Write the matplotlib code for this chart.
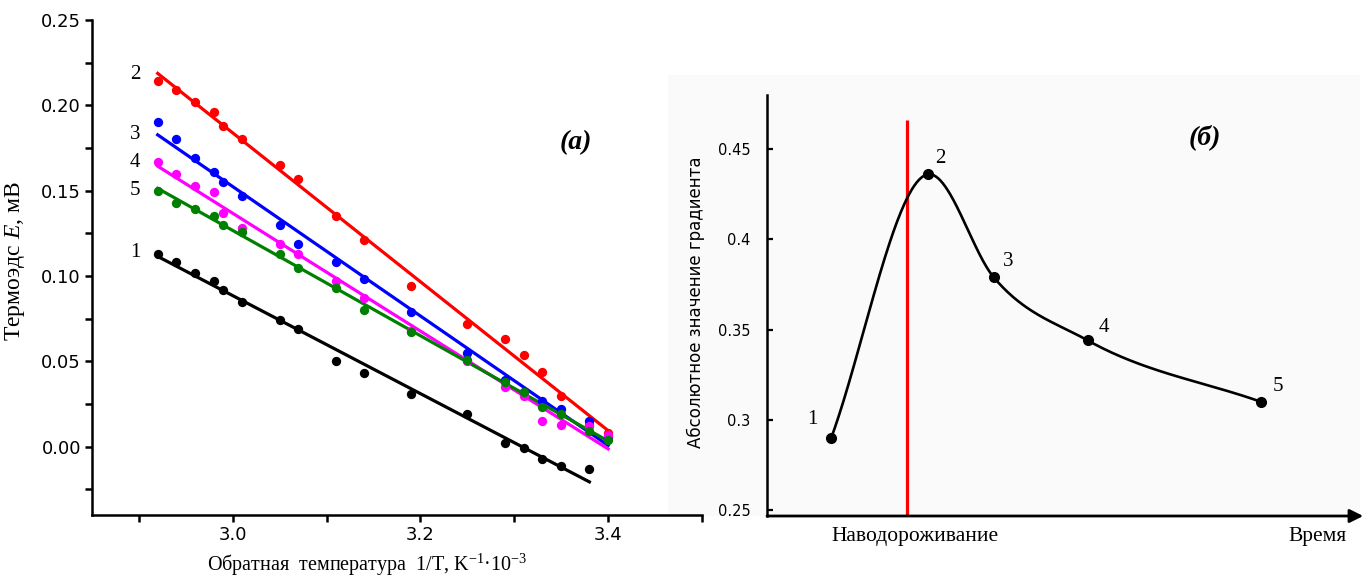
import numpy as np
import matplotlib.pyplot as plt
from matplotlib.patches import Rectangle

plt.rcParams['mathtext.fontset'] = 'custom'
plt.rcParams['mathtext.rm'] = 'Liberation Serif'
plt.rcParams['mathtext.it'] = 'Liberation Serif:italic'

# (а) thermo-EMF vs inverse temperature, five samples
inv_temp = [2.92, 2.94, 2.96, 2.98, 2.99, 3.01, 3.05, 3.07, 3.11,
            3.14, 3.19, 3.25, 3.29, 3.31, 3.33, 3.35, 3.38, 3.40]
emf_1 = [0.113, 0.108, 0.102, 0.097, 0.092, 0.085, 0.074, 0.069, 0.050,
         0.043, 0.031, 0.019, 0.002, -0.001, -0.007, -0.011, -0.013, np.nan]
emf_2 = [0.214, 0.209, 0.202, 0.196, 0.188, 0.180, 0.165, 0.157, 0.135,
         0.121, 0.094, 0.072, 0.063, 0.054, 0.044, 0.030, 0.013, 0.008]
emf_3 = [0.190, 0.180, 0.169, 0.161, 0.155, 0.147, 0.130, 0.119, 0.108,
         0.098, 0.079, 0.055, 0.039, 0.032, 0.027, 0.022, 0.015, 0.005]
emf_4 = [0.167, 0.160, 0.153, 0.149, 0.137, 0.128, 0.119, 0.113, 0.097,
         0.087, 0.068, 0.050, 0.035, 0.030, 0.015, 0.013, 0.012, 0.007]
emf_5 = [0.150, 0.143, 0.139, 0.135, 0.130, 0.126, 0.113, 0.105, 0.093,
         0.080, 0.067, 0.051, 0.038, 0.032, 0.023, 0.019, 0.009, 0.004]

series = [
    ('1', emf_1, 'black', 0.1136),
    ('2', emf_2, '#ff0000', 0.2178),
    ('3', emf_3, '#0000ff', 0.1827),
    ('4', emf_4, '#ff00ff', 0.1663),
    ('5', emf_5, '#008000', 0.1499),
]

# (б) absolute gradient value over time
time_pts = [1.08, 2.70, 3.81, 5.39, 8.30]
gradient = [0.290, 0.436, 0.379, 0.344, 0.310]
point_labels = ['1', '2', '3', '4', '5']
hydrogenation_t = 2.35

SERIF = 'Liberation Serif'
SANS = 'DejaVu Sans'


def hermite_curve(x, y, n=80):
    x = np.asarray(x, float)
    y = np.asarray(y, float)
    m = np.gradient(y, x)
    xs, ys = [], []
    for i in range(len(x) - 1):
        h = x[i + 1] - x[i]
        t = np.linspace(0, 1, n)
        h00 = 2 * t**3 - 3 * t**2 + 1
        h10 = t**3 - 2 * t**2 + t
        h01 = -2 * t**3 + 3 * t**2
        h11 = t**3 - t**2
        xs.append(x[i] + t * h)
        ys.append(h00 * y[i] + h10 * h * m[i] + h01 * y[i + 1] + h11 * h * m[i + 1])
    return np.concatenate(xs), np.concatenate(ys)


fig = plt.figure(figsize=(13.71, 5.78), dpi=100)

# light backdrop of the right-hand panel
fig.patches.append(Rectangle((668 / 1371, 1 - 516 / 578), 692 / 1371, 441 / 578,
                             transform=fig.transFigure, facecolor='#fafafa',
                             edgecolor='none', zorder=-5))

ax1 = fig.add_axes([92 / 1371, 1 - 515 / 578, 610 / 1371, 495 / 578])
ax1.patch.set_alpha(0)
x = np.array(inv_temp)
for label, vals, color, ly in series:
    y = np.array(vals)
    ok = ~np.isnan(y)
    ax1.scatter(x[ok], y[ok], s=45, color=color, zorder=3, linewidths=0)
    k, b = np.polyfit(x[ok], y[ok], 1)
    xf = np.array([x[ok][0], x[ok][-1]])
    ax1.plot(xf, k * xf + b, color=color, lw=2.3, zorder=2)
    ax1.text(2.896, ly, label, fontsize=15, family=SERIF, ha='center', va='center')

ax1.set_xlim(2.85, 3.5)
ax1.set_ylim(-0.04, 0.25)
ax1.set_xticks([3.0, 3.2, 3.4])
ax1.set_xticks([2.9, 3.1, 3.3, 3.5], minor=True)
ax1.set_yticks(np.arange(0, 0.251, 0.05))
ax1.set_yticks(np.arange(-0.025, 0.25, 0.05), minor=True)
ax1.set_yticklabels([f'{v:.2f}' for v in np.arange(0, 0.251, 0.05)])
for s in ['top', 'right']:
    ax1.spines[s].set_visible(False)
for s in ['left', 'bottom']:
    ax1.spines[s].set_linewidth(1.8)
ax1.tick_params(which='both', direction='out', length=5, width=1.8,
                labelsize=13, pad=3)
for t in ax1.get_xticklabels() + ax1.get_yticklabels():
    t.set_family(SANS)
ax1.set_xlabel(r'Обратная  температура  1/T, K$^{-1}$·10$^{-3}$', fontsize=14.5,
               family=SERIF)
ax1.xaxis.set_label_coords(0.451, -0.075)
ax1.set_ylabel('Термоэдс $E$, мВ', fontsize=17, family=SERIF)
ax1.yaxis.set_label_coords(-0.1066, 0.513)
ax1.text(3.366, 0.178, '(а)', fontsize=20, family=SERIF, fontweight='bold',
         fontstyle='italic', ha='center', va='center')

ax2 = fig.add_axes([767 / 1371, 1 - 516 / 578, 595 / 1371, 421 / 578])
ax2.patch.set_alpha(0)
cx, cy = hermite_curve(time_pts, gradient)
ax2.plot(cx, cy, color='black', lw=1.9, zorder=3)
ax2.plot(time_pts, gradient, 'o', color='black', ms=7, zorder=4)
label_off = [(-0.32, 0.010), (0.21, 0.0086), (0.24, 0.0086), (0.27, 0.0072), (0.29, 0.0084)]
for tx, gy, lab, (dx, dy) in zip(time_pts, gradient, point_labels, label_off):
    ax2.text(tx + dx, gy + dy, lab, fontsize=15, family=SERIF, ha='center', va='center')

ax2.set_xlim(0, 10)
ax2.set_ylim(0.2467, 0.48)
ax2.vlines(hydrogenation_t, 0.2467, 0.466, color='#ff0000', lw=2.3, zorder=2)
ax2.annotate('', xy=(10.02, 0.2467), xytext=(0, 0.2467),
             arrowprops=dict(arrowstyle='-|>', lw=2, color='black', mutation_scale=20,
                             shrinkA=0, shrinkB=0),
             annotation_clip=False)
ax2.set_xticks([])
ax2.set_yticks([0.25, 0.3, 0.35, 0.4, 0.45])
ax2.set_yticklabels(['0.25', '0.3', '0.35', '0.4', '0.45'])
for s in ['top', 'right', 'bottom']:
    ax2.spines[s].set_visible(False)
ax2.spines['left'].set_linewidth(1.8)
ax2.tick_params(axis='y', direction='in', length=4.5, width=1.6, labelsize=10.5,
                pad=12)
for t in ax2.get_yticklabels():
    t.set_family('DejaVu Sans')
ax2.set_ylabel('Абсолютное значение градиента', fontsize=12, family='DejaVu Sans')
ax2.yaxis.set_label_coords(-62 / 595, (516 - 302) / 421)
ax2.text(2.49, 0.2355, 'Наводороживание', fontsize=15.5, family=SERIF,
         ha='center', va='center')
ax2.text(9.25, 0.2355, 'Время', fontsize=15.5, family=SERIF, ha='center', va='center')
ax2.text(7.36, 0.4566, '(б)', fontsize=20, family=SERIF, fontweight='bold',
         fontstyle='italic', ha='center', va='center')

fig.savefig('out.png', dpi=100)
